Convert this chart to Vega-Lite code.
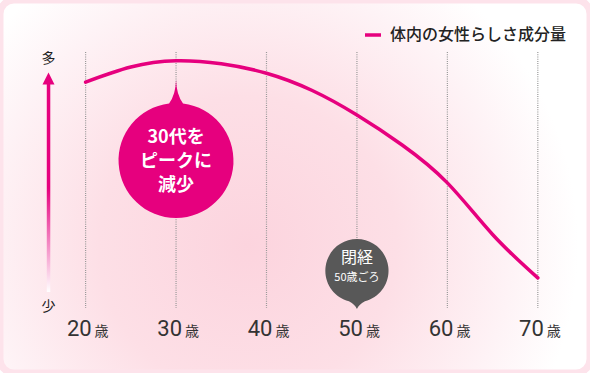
{
  "$schema": "https://vega.github.io/schema/vega-lite/v6.json",
  "width": 590,
  "height": 373,
  "padding": 0,
  "autosize": {"type": "none"},
  "background": "#ffffff",
  "config": {"view": {"stroke": null}, "font": "Noto Sans CJK JP"},
  "datasets": {
    "curve": [
      {"age": 20, "level": 90.8, "series": "体内の女性らしさ成分量"},
      {"age": 25, "level": 97.1, "series": "体内の女性らしさ成分量"},
      {"age": 30, "level": 99.7, "series": "体内の女性らしさ成分量"},
      {"age": 35, "level": 98.4, "series": "体内の女性らしさ成分量"},
      {"age": 40, "level": 94.5, "series": "体内の女性らしさ成分量"},
      {"age": 45, "level": 87.4, "series": "体内の女性らしさ成分量"},
      {"age": 50, "level": 77.1, "series": "体内の女性らしさ成分量"},
      {"age": 55, "level": 64.6, "series": "体内の女性らしさ成分量"},
      {"age": 60, "level": 48.8, "series": "体内の女性らしさ成分量"},
      {"age": 65, "level": 27.3, "series": "体内の女性らしさ成分量"},
      {"age": 70, "level": 9.2, "series": "体内の女性らしさ成分量"}
    ],
    "ticks": [
      {"age": 20, "num": "20"},
      {"age": 30, "num": "30"},
      {"age": 40, "num": "40"},
      {"age": 50, "num": "50"},
      {"age": 60, "num": "60"},
      {"age": 70, "num": "70"}
    ],
    "axisEnds": [
      {"age": 15.9, "level": 100.4, "label": "多"},
      {"age": 15.9, "level": -2.9, "label": "少"}
    ],
    "peakNote": [
      {"age": 30, "level": 67.7, "text": "30代を"},
      {"age": 30, "level": 57.3, "text": "ピークに"},
      {"age": 30, "level": 47.5, "text": "減少"}
    ]
  },
  "layer": [
    {
      "data": {"values": [{"part": "frame"}]},
      "mark": {
        "type": "rect",
        "cornerRadius": 14,
        "stroke": "#fde3eb",
        "strokeWidth": 7,
        "fill": {
          "gradient": "radial",
          "x1": 0.42, "y1": 0.6, "r1": 0,
          "x2": 0.42, "y2": 0.6, "r2": 0.56,
          "stops": [
            {"offset": 0, "color": "#fcd4de"},
            {"offset": 0.45, "color": "#fddfe6"},
            {"offset": 0.8, "color": "#fef3f6"},
            {"offset": 1, "color": "#ffffff"}
          ]
        }
      },
      "encoding": {}
    },
    {
      "data": {"name": "ticks"},
      "mark": {"type": "rule", "stroke": "#999999", "strokeWidth": 1.2, "strokeDash": [1, 1.2]},
      "encoding": {
        "x": {"field": "age", "type": "quantitative", "scale": {"domain": [11.087, 75.217], "nice": false, "zero": false}, "axis": null},
        "y": {"datum": 103.3, "type": "quantitative", "scale": {"domain": [-30.417, 125], "nice": false, "zero": false}, "axis": null},
        "y2": {"datum": -3.3}
      }
    },
    {
      "data": {"values": [{"age": 15.9}]},
      "mark": {
        "type": "bar",
        "width": 3.5,
        "fill": {
          "gradient": "linear",
          "x1": 0, "y1": 0, "x2": 0, "y2": 1,
          "stops": [
            {"offset": 0, "color": "#e6007e"},
            {"offset": 0.5, "color": "#e6007e"},
            {"offset": 1, "color": "#ffffff"}
          ]
        }
      },
      "encoding": {
        "x": {"field": "age", "type": "quantitative"},
        "y": {"datum": 90, "type": "quantitative"},
        "y2": {"datum": 3.3}
      }
    },
    {
      "data": {"values": [{"age": 15.9, "level": 92.3}]},
      "mark": {"type": "point", "shape": "M0,-1L1,1L-1,1Z", "filled": true, "fill": "#e6007e", "opacity": 1, "strokeWidth": 0, "size": 144},
      "encoding": {
        "x": {"field": "age", "type": "quantitative"},
        "y": {"field": "level", "type": "quantitative"}
      }
    },
    {
      "data": {"name": "axisEnds"},
      "mark": {"type": "text", "fontSize": 14, "fill": "#222222", "align": "center", "baseline": "middle", "font": "Noto Sans CJK JP"},
      "encoding": {
        "x": {"field": "age", "type": "quantitative"},
        "y": {"field": "level", "type": "quantitative"},
        "text": {"field": "label"}
      }
    },
    {
      "data": {"name": "curve"},
      "mark": {"type": "line", "interpolate": "natural", "strokeWidth": 3.5, "strokeCap": "round"},
      "encoding": {
        "x": {"field": "age", "type": "quantitative"},
        "y": {"field": "level", "type": "quantitative"},
        "color": {
          "field": "series", "type": "nominal",
          "scale": {"domain": ["体内の女性らしさ成分量"], "range": ["#e6007e"]},
          "legend": {
            "orient": "none", "legendX": 363, "legendY": 25, "padding": 0,
            "title": null, "symbolType": "stroke", "symbolSize": 256, "symbolStrokeWidth": 3.5,
            "labelFontSize": 16, "labelFont": "Noto Sans CJK JP", "labelColor": "#222222",
            "labelFontWeight": 500, "labelOffset": 7, "labelLimit": 300
          }
        }
      }
    },
    {
      "data": {"values": [{"age": 30, "level": 58.1, "note": "30代をピークに減少"}]},
      "mark": {
        "type": "point", "filled": true, "fill": "#e6007e", "opacity": 1, "strokeWidth": 0, "size": 26896,
        "shape": "M0,-0.982Q0.006,-0.8 0.085,-0.696A0.701,0.701 0 1 1 -0.085,-0.696Q-0.006,-0.8 0,-0.982Z"
      },
      "encoding": {
        "x": {"field": "age", "type": "quantitative"},
        "y": {"field": "level", "type": "quantitative"}
      }
    },
    {
      "data": {"values": [{"age": 50, "level": 12.2, "note": "閉経 50歳ごろ"}]},
      "mark": {
        "type": "point", "filled": true, "fill": "#585858", "opacity": 1, "strokeWidth": 0, "size": 6400,
        "shape": "M0,0.96Q-0.04,0.85 -0.2,0.764A0.79,0.79 0 1 1 0.2,0.764Q0.04,0.85 0,0.96Z"
      },
      "encoding": {
        "x": {"field": "age", "type": "quantitative"},
        "y": {"field": "level", "type": "quantitative"}
      }
    },
    {
      "data": {"name": "peakNote"},
      "mark": {"type": "text", "fontSize": 18, "fontWeight": "bold", "fill": "#ffffff", "align": "center", "baseline": "middle", "font": "Noto Sans CJK JP"},
      "encoding": {
        "x": {"field": "age", "type": "quantitative"},
        "y": {"field": "level", "type": "quantitative"},
        "text": {"field": "text"}
      }
    },
    {
      "data": {"values": [{"age": 50, "level": 17.3, "text": "閉経"}]},
      "mark": {"type": "text", "fontSize": 16, "fill": "#ffffff", "align": "center", "baseline": "middle", "font": "Noto Sans CJK JP"},
      "encoding": {
        "x": {"field": "age", "type": "quantitative"},
        "y": {"field": "level", "type": "quantitative"},
        "text": {"field": "text"}
      }
    },
    {
      "data": {"values": [{"age": 50, "level": 9.2, "text": "50歳ごろ"}]},
      "mark": {"type": "text", "fontSize": 11, "fill": "#ffffff", "align": "center", "baseline": "middle", "font": "Noto Sans CJK JP"},
      "encoding": {
        "x": {"field": "age", "type": "quantitative"},
        "y": {"field": "level", "type": "quantitative"},
        "text": {"field": "text"}
      }
    },
    {
      "data": {"name": "ticks"},
      "mark": {"type": "text", "fontSize": 22, "fill": "#333333", "align": "right", "baseline": "alphabetic", "dx": 6, "font": "Roboto"},
      "encoding": {
        "x": {"field": "age", "type": "quantitative"},
        "y": {"datum": -15, "type": "quantitative"},
        "text": {"field": "num"}
      }
    },
    {
      "data": {"name": "ticks"},
      "mark": {"type": "text", "fontSize": 14, "fill": "#333333", "align": "left", "baseline": "alphabetic", "dx": 9, "font": "Noto Sans CJK JP", "text": "歳"},
      "encoding": {
        "x": {"field": "age", "type": "quantitative"},
        "y": {"datum": -15, "type": "quantitative"}
      }
    }
  ]
}
